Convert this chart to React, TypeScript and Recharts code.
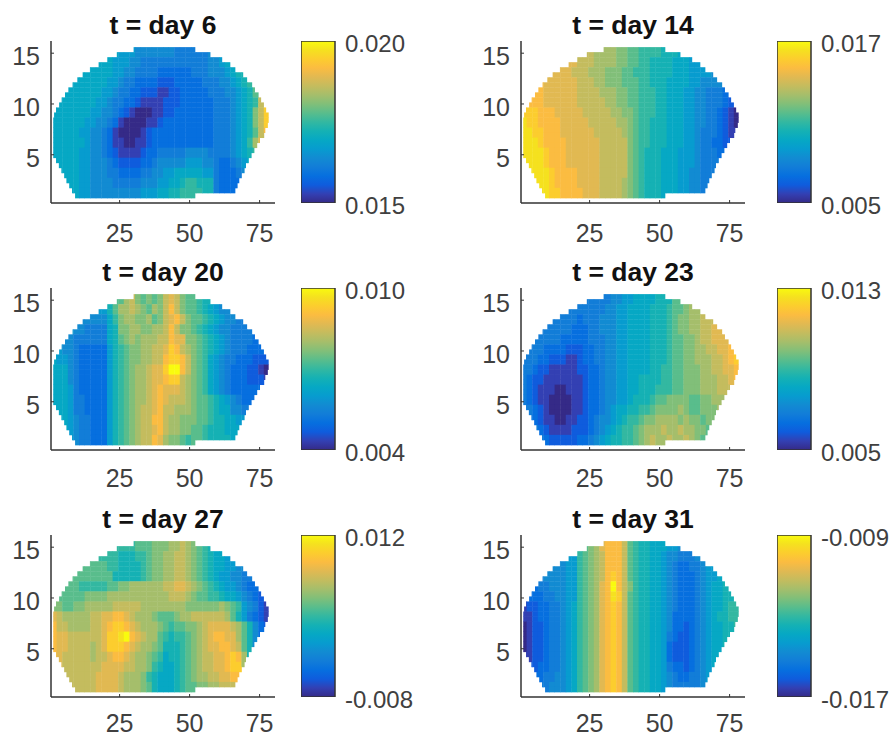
import React from "react";
import { Bar, BarChart, Scatter, ScatterChart, XAxis, YAxis } from "recharts";

// Colour levels 0-18 (bottom to top)
const levelColors = [
  "#352a87", "#3340b3", "#0f5cdd", "#066fdf", "#127dd8", "#128bd2", "#079ccf",
  "#06a8c4", "#15b1b4", "#33b8a1", "#59bd8c", "#81bf79", "#a5be6b", "#c4bc5e",
  "#e1b952", "#fbbc41", "#fccd2e", "#f5e11f", "#f9fb0e",
];

const xTicks = [25, 50, 75];
const yTicks = [5, 10, 15];

// Measured region outline, one pair per half-unit row, top to bottom
const rowStart = [
  30, 24, 20.6, 17.5, 14.4, 11.8, 9.9, 8.2, 6.7, 5.5, 4.3, 3.4, 2.3, 1.6, 1.3,
  1.3, 1.3, 1.3, 1.3, 1.3, 1.3, 1.3, 2.3, 3.3, 4.2, 5.2, 6, 7, 8, 9.1,
];
const rowEnd = [
  51.9, 57.3, 61.5, 64.4, 66.2, 69, 70.4, 72.2, 73.2, 74.5, 75.4, 76.4, 77.2, 78.1, 78.1,
  77.8, 76.9, 76.5, 75, 74, 73, 72, 71, 70, 69.5, 68.5, 67.6, 67, 66.2, 51.9,
];

// Colour level (base 36 digit) per 2-unit column and 1-unit row
const day6 = [
  "7777777777 7766655555 5544444455 6677888888",
  "7777777777 7666554444 4444444455 6778999999",
  "7777777777 7665544443 3333344455 5678899aaa",
  "7777777777 6654433332 2233333444 5567899abc",
  "7777777776 6544332221 1223333344 455678acef",
  "7777777766 5443321111 2223333334 4456789dfg",
  "7777777665 5432100011 2233333334 445678bdgh",
  "7777776655 4310000112 3333333334 445678bdgh",
  "7777766554 3100001233 3333333334 445678adfg",
  "7777776554 3110011233 3333333334 445679ceff",
  "7777766554 3211112334 4444555544 4456789bde",
  "7777766555 4322223345 5555666554 334567899b",
  "7777766555 4433334455 6677777664 3334567888",
  "7777766555 5444445556 6778998884 3333456777",
  "7777766555 5555556667 7889999884 3333345555",
];
const day14 = [
  "fffffeeeee dddccccbba a999988877 7666666655",
  "fffffeeeee dddccccbba a998888777 6666555555",
  "ffffeeeeed ddcccbbbaa 9998888777 6666555554",
  "ffffeeeeee dddccbbbaa a998887777 6655554443",
  "ffffeeeeee ddddcccbba a999887776 6554443321",
  "gfffeeeeee dddddccbba a999887776 6554443211",
  "gggfffeeee edddddccbb a999887776 6554432100",
  "hggffffeee eedddddccb a998887776 6554432100",
  "hhggfffeee eeedddddcb a998887776 6544432110",
  "hhhgffffee eeeedddddb a998887776 6544332211",
  "hhhhgfffee eeeedddddb a988877766 6544433222",
  "hhhhgfffee eeeedddddb a988877766 6544443333",
  "hhhhhgffff eeeedddddb a988877766 5544444444",
  "iihhhgffff eeeeddddcb a988877766 5544444444",
  "iihhhggfff feeeddddcb a988877766 5544444444",
];
const day20 = [
  "6666666666 8aacdbabab dedbaa9887 6666666666",
  "6666666666 8accdcbacb dfdbaa9876 5555555555",
  "6666655555 79bccbbcab defdbaa987 6554444444",
  "6666554444 78bbccbbcc dfdbba9876 5544444444",
  "6655444444 78abcbcccd dfeebba987 6544443333",
  "6655433333 689abbccdd egfdcba987 6544433322",
  "7665433333 689abbccdd fggfdba976 5443332221",
  "7775433333 689abccdee giifdba976 5433322100",
  "7775433333 689abccdee fggdcba976 5433322211",
  "7776433333 689abccdef eeedcba976 5433333322",
  "7776443333 689abccdef edddcbaa98 7654333333",
  "7776443333 689abcddef ddcccbaa98 7755444444",
  "7776544333 689abcddff dccbbbaa98 8776655555",
  "7776544333 689abcddef dccbbaa988 8777766666",
  "7776544333 689abcddfe cbba9aa988 8877777777",
];
const day23 = [
  "4444444444 4444445566 7777888aab bccddddddd",
  "4444444444 4444455667 7778889aab ccdddddddd",
  "4444444444 3444555667 7778889abb ccdddeeeee",
  "4444444443 3344555667 7778889abb ccddeeefff",
  "4444444333 3344455667 7778889aab bcddeeeffg",
  "4444333322 2334455667 7778889aab bccddeefgh",
  "4443322211 2334455667 7778889aab bcccddefgh",
  "4432211111 2233455667 7778899aab bbccddeefg",
  "4322111111 1233455667 7888899aab bbcccddeff",
  "4321110011 1233455667 7888999aab bbcccdddde",
  "4321100001 1233455667 8889aabbbb aabbcccddd",
  "4432100001 1233456778 899abbbbcb aabbbccccc",
  "4432110011 2234556789 9abbccccbc bbabbbbbbb",
  "4443211112 2234567899 abcccdccdc cbbabbbbbb",
  "4444322222 3345678899 abcdccdccd cbaabbbbbb",
];
const day27 = [
  "9999999999 99999aaabb bccdcba987 7777777777",
  "9999999999 9988899abb ccddcba987 7666666666",
  "aaaaaaaaaa 9988889abb ccddcba987 7665555555",
  "aaaaaaaaaa a888889abb ccddcba987 6655444433",
  "aaaaa99999 aabbcccccc ddeedcba98 7665433222",
  "aaaaaabbbb cccccccccc cdddcbaa99 8776543211",
  "bbaabbcccc cdddddcccc ccccbbbbbb cba9654210",
  "edcccccdde effedcccba aabccddddd dca8643210",
  "fddccccdde fggfedcccb a9aabbcdee eedca85321",
  "feedddddde gghifedcca 9899abcdef feeca85332",
  "feeddddcde gggfedccba 8889abcdee ffeda85433",
  "fedddddcdd effedccba9 7889abcdde efgfc85433",
  "eeddddddde eeeddccb98 7789abcdde efggc95444",
  "edddddddee eedcccb987 7789abccdd eeffe95444",
  "edddddddee eedcccba87 7789aabbcc dddddddddd",
];
const day31 = [
  "5555555566 9abcefffda 9887776655 5555555555",
  "5555555566 9abcdfffda 9887765544 4556677777",
  "4445555566 9abcdfffda 9887765433 4456677888",
  "3344555566 9abcdfgfda 9887765433 3456677888",
  "3334455566 9abcefifdb 9887765433 3456778888",
  "2333445566 9abcefhgda 9887765433 3456778899",
  "1223344567 9abcefgfda 9887765433 345677899b",
  "1123344567 9abcefgfda 9887765333 345678899d",
  "0122344567 9abcefgfda 9887765332 345677889a",
  "0122344567 9abcefgfda 9887764322 3456778899",
  "0122344567 9abcefgfda 9887763222 3456778899",
  "1122344567 9abcefgfda 9887763222 3456778888",
  "1223344567 9abcefgfda 9887764332 3456778888",
  "2233445567 9abcefgfda 9887765433 4456677777",
  "3334455567 9abcefgfda 9887765444 4456666666",
];

const days = ["6", "14", "20", "23", "27", "31"];
const grids = [day6, day14, day20, day23, day27, day31];
const barMins = [0.015, 0.005, 0.004, 0.005, -0.008, -0.017];
const barMaxs = [0.02, 0.017, 0.01, 0.013, 0.012, -0.009];

const PLOT_W = 224;
const PLOT_H = 162;
const X_DOMAIN: [number, number] = [0.5, 80.5];
const Y_DOMAIN: [number, number] = [0.25, 16.2];
const ROW_STEP = 0.495;
const AXIS = "#333333";
const LABEL = "#404040";
const FONT = "'Liberation Sans', Arial, sans-serif";
const X_LABEL_DROP = [38.7, 36.7, 35];

function buildCells(grid: string[]) {
  const cells: { x: number; y: number; w: number; level: number }[] = [];
  rowStart.forEach((start, i) => {
    const line = grid[Math.floor(i / 2)].replace(/ /g, "");
    for (let c = 0; c < line.length; c++) {
      const x0 = Math.max(0.5 + 2 * c, start);
      const x1 = Math.min(2.5 + 2 * c, rowEnd[i]);
      if (x1 <= x0) continue;
      cells.push({ x: (x0 + x1) / 2, y: 15.35 - ROW_STEP * i, w: x1 - x0, level: parseInt(line[c], 36) });
    }
  });
  return cells;
}

const HeatCell = (props: any) => {
  const { cx, cy, payload } = props;
  const w = (payload.w * PLOT_W) / (X_DOMAIN[1] - X_DOMAIN[0]);
  const h = (ROW_STEP * PLOT_H) / (Y_DOMAIN[1] - Y_DOMAIN[0]);
  return (
    <rect
      x={cx - w / 2}
      y={cy - h / 2}
      width={w + 0.4}
      height={h + 0.4}
      fill={levelColors[payload.level]}
    />
  );
};

const XTick = ({ x, y, payload, drop }: any) => (
  <g>
    <line x1={x} x2={x} y1={y} y2={y - 3} stroke={AXIS} strokeWidth={1} />
    <text x={x} y={y + drop} textAnchor="middle" fontSize={25} fontFamily={FONT} fill={LABEL}>
      {payload.value}
    </text>
  </g>
);

const YTick = ({ x, y, payload }: any) => (
  <g>
    <line x1={x} x2={x + 3} y1={y} y2={y} stroke={AXIS} strokeWidth={1} />
    <text x={x - 11} y={y + 12} textAnchor="end" fontSize={25} fontFamily={FONT} fill={LABEL}>
      {payload.value}
    </text>
  </g>
);

const BarTick = ({ x, y, payload }: any) => (
  <text x={x + 10} y={y + 11} textAnchor="start" fontSize={24} fontFamily={FONT} fill={LABEL}>
    {payload.value.toFixed(3)}
  </text>
);

const Panel = ({ index }: { index: number }) => {
  const col = index % 2;
  const row = Math.floor(index / 2);
  const left = col * 470;
  const top = row * 247;
  return (
    <div style={{ position: "absolute", left, top, width: 290, height: 258 }}>
      <ScatterChart width={290} height={258} margin={{ top: 41, right: 15, bottom: 0, left: 0 }}>
        <XAxis
          type="number"
          dataKey="x"
          domain={X_DOMAIN}
          ticks={xTicks}
          height={55}
          tickSize={0}
          tickMargin={0}
          tick={<XTick drop={X_LABEL_DROP[row]} />}
          tickLine={false}
          axisLine={{ stroke: AXIS, strokeWidth: 1.5 }}
        />
        <YAxis
          type="number"
          dataKey="y"
          domain={Y_DOMAIN}
          ticks={yTicks}
          width={51}
          tickSize={0}
          tickMargin={0}
          tick={<YTick />}
          tickLine={false}
          axisLine={{ stroke: AXIS, strokeWidth: 1.5 }}
        />
        <Scatter data={buildCells(grids[index])} shape={HeatCell} isAnimationActive={false} />
      </ScatterChart>
      <div
        style={{
          position: "absolute",
          left: 63,
          top: 10,
          width: 200,
          textAlign: "center",
          fontFamily: FONT,
          fontWeight: "bold",
          fontSize: 26.5,
          lineHeight: "30px",
          color: "#111",
        }}
      >
        t = day {days[index]}
      </div>
    </div>
  );
};

const ColorBar = ({ index }: { index: number }) => {
  const col = index % 2;
  const row = Math.floor(index / 2);
  const id = `parula-${index}`;
  const range = [{ name: days[index], span: [barMins[index], barMaxs[index]] }];
  return (
    <div style={{ position: "absolute", left: 301 + col * 476, top: 21 + row * 247 }}>
      <BarChart
        width={114}
        height={202}
        data={range}
        barCategoryGap={0}
        margin={{ top: 20, right: 0, bottom: 20, left: 0 }}
      >
        <defs>
          <linearGradient id={id} x1="0" y1="1" x2="0" y2="0">
            {levelColors.map((c, i) => (
              <stop key={c} offset={i / (levelColors.length - 1)} stopColor={c} />
            ))}
          </linearGradient>
        </defs>
        <XAxis dataKey="name" hide />
        <YAxis
          type="number"
          orientation="right"
          domain={[barMins[index], barMaxs[index]]}
          ticks={[barMins[index], barMaxs[index]]}
          width={80}
          axisLine={false}
          tickLine={false}
          tickMargin={0}
          tickSize={0}
          interval={0}
          tick={<BarTick />}
          allowDataOverflow
        />
        <Bar dataKey="span" fill={`url(#${id})`} stroke={AXIS} strokeWidth={1.5} isAnimationActive={false} />
      </BarChart>
    </div>
  );
};

export default function App() {
  return (
    <div style={{ position: "absolute", left: 0, top: 0, width: 891, height: 736, background: "#fff", overflow: "hidden" }}>
      {days.map((d, i) => (
        <React.Fragment key={d}>
          <Panel index={i} />
          <ColorBar index={i} />
        </React.Fragment>
      ))}
    </div>
  );
}
